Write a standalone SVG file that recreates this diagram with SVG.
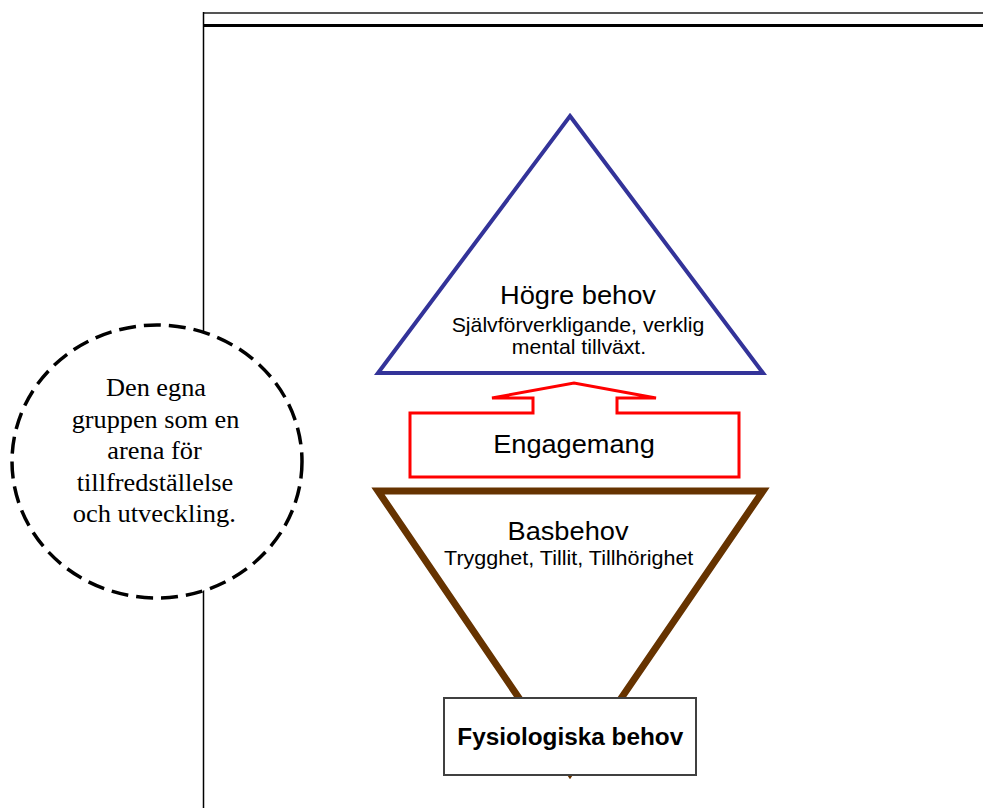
<svg xmlns="http://www.w3.org/2000/svg" width="983" height="809" viewBox="0 0 983 809">
<style>
.sans{font-family:"Liberation Sans",Arial,sans-serif;fill:#000;text-anchor:middle}
.serif{font-family:"Liberation Serif","Times New Roman",serif;fill:#000;text-anchor:middle;font-size:25px}
.title{font-size:26px}
.sub{font-size:21px}
</style>
<rect width="983" height="809" fill="#fff"/>
<g id="frame">
<line x1="203" y1="13" x2="990" y2="13" stroke="#555" stroke-width="2"/>
<line x1="203" y1="25.5" x2="990" y2="25.5" stroke="#000" stroke-width="3"/>
<line x1="203.5" y1="12" x2="203.5" y2="808" stroke="#000" stroke-width="1.5"/>
</g>
<g id="group-circle">
<ellipse cx="157" cy="461.5" rx="145" ry="136.5" fill="#fff" stroke="#000" stroke-width="3.5" stroke-dasharray="17 8"/>
<text class="serif" x="156" y="396" textLength="100" lengthAdjust="spacingAndGlyphs">Den egna</text>
<text class="serif" x="155.5" y="428" textLength="167.6" lengthAdjust="spacingAndGlyphs">gruppen som en</text>
<text class="serif" x="154.5" y="459" textLength="94.4" lengthAdjust="spacingAndGlyphs">arena för</text>
<text class="serif" x="155" y="491" textLength="156.6" lengthAdjust="spacingAndGlyphs">tillfredställelse</text>
<text class="serif" x="154.3" y="522" textLength="163.3" lengthAdjust="spacingAndGlyphs">och utveckling.</text>
</g>
<g id="hogre">
<polygon points="570,116 763,373 378,373" fill="#fff" stroke="#333399" stroke-width="4" stroke-linejoin="miter"/>
<text class="sans title" x="578" y="303.5" textLength="156" lengthAdjust="spacingAndGlyphs">Högre behov</text>
<text class="sans sub" x="578" y="331.5" textLength="252.6" lengthAdjust="spacingAndGlyphs">Självförverkligande, verklig</text>
<text class="sans sub" x="579" y="353.5" textLength="134.3" lengthAdjust="spacingAndGlyphs">mental tillväxt.</text>
</g>
<g id="engagemang">
<path d="M410,413 L533,413 L533,398 L492,398 L574,383 L656,398 L617,398 L617,413 L739,413 L739,477 L410,477 Z" fill="#fff" stroke="#ff0000" stroke-width="3"/>
<text class="sans title" x="574" y="453" textLength="161.7" lengthAdjust="spacingAndGlyphs">Engagemang</text>
</g>
<g id="basbehov">
<polygon points="378,491 763,491 570,773" fill="#fff" stroke="#663300" stroke-width="7" stroke-linejoin="miter"/>
<text class="sans title" x="568" y="540" textLength="121" lengthAdjust="spacingAndGlyphs">Basbehov</text>
<text class="sans sub" x="568.7" y="565" textLength="249.3" lengthAdjust="spacingAndGlyphs">Trygghet, Tillit, Tillhörighet</text>
</g>
<g id="fysiologiska">
<rect x="444" y="698" width="252" height="77" fill="#fff" stroke="#404040" stroke-width="2"/>
<text class="sans" x="570.3" y="745" font-size="23" font-weight="bold" textLength="226" lengthAdjust="spacingAndGlyphs">Fysiologiska behov</text>
</g>
<g id="connectors"></g>
</svg>
